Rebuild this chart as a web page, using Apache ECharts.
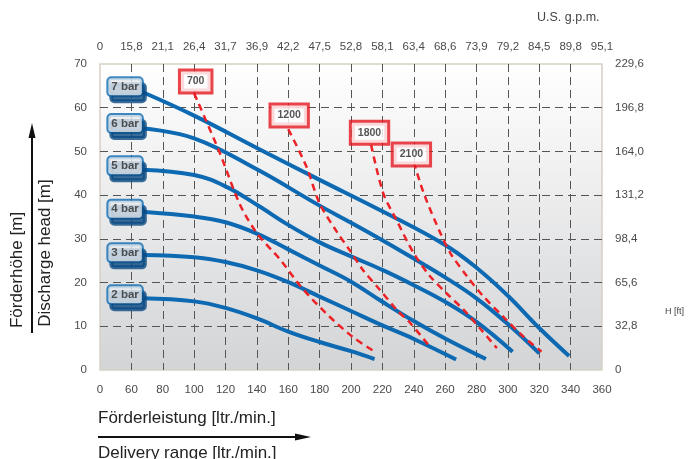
<!DOCTYPE html>
<html>
<head>
<meta charset="utf-8">
<script src="https://cdn.jsdelivr.net/npm/echarts@6/dist/echarts.min.js"></script>
<style>
html,body{margin:0;padding:0;background:#fff;}
#chart{width:693px;height:459px;}
</style>
</head>
<body>
<div id="chart"></div>
<script>
// ---- tick labels ----
const xTickLabels = ['0','60','80','100','120','140','160','180','200','220','240','260','280','300','320','340','360'];
const gpmTickLabels = ['0','15,8','21,1','26,4','31,7','36,9','42,2','47,5','52,8','58,1','63,4','68,6','73,9','79,2','84,5','89,8','95,1'];
const yTickLabels = ['0','10','20','30','40','50','60','70'];
const ftTickLabels = ['0','32,8','65,6','98,4','131,2','164,0','196,8','229,6'];

// ---- pump curves: [flow ltr/min (axis units), head m] ----
const bar7 = [[67,63.6],[100,58.2],[140,50.8],[180,43.5],[220,36.3],[260,28.6],[280,23.4],[300,17],[320,9.6],[339,3.2]];
const bar6 = [[67,55.3],[100,53],[140,45.9],[180,37.6],[200,33.7],[220,29.7],[240,25.5],[260,21.2],[280,16.4],[300,10.5],[320,3.8]];
const bar5 = [[67,45.8],[100,44.6],[120,42],[140,37.8],[160,33.2],[180,29.2],[200,26],[220,22.9],[240,19.4],[260,15.6],[280,11],[303,4.2]];
const bar4 = [[67,36.2],[100,35.1],[120,33.8],[140,31.2],[160,27.6],[180,23.9],[200,20.2],[220,15.6],[240,11.2],[260,7.2],[286,2.5]];
const bar3 = [[67,26.3],[100,25.8],[120,24.7],[140,22.8],[160,20.1],[180,16.8],[200,13.5],[220,10.2],[240,7.1],[267,2.4]];
const bar2 = [[67,16.4],[100,15.7],[120,14.2],[140,11.8],[160,8.8],[180,6.4],[200,4.3],[215,2.5]];

// ---- iso lines (red dashed) ----
const iso700  = [[100,63.3],[116,50],[129,38],[140,31.3],[155,25.2],[168,19.1],[184,13],[201,7.6],[215,4.2]];
const iso1200 = [[160,55.1],[171.5,46.6],[180,38.1],[191,31.6],[199,27.5],[207.6,22.9],[218.5,18.3],[229.3,13.7],[237.6,10.8],[250.3,5.3]];
const iso1800 = [[212.8,51.5],[220.6,40.4],[229,34.3],[240,26.7],[250.5,21.4],[261,17.5],[272,13.7],[283,9.2],[293,5]];
const iso2100 = [[240,47.6],[246.4,40.4],[257,31.3],[263.4,26.7],[274,21.4],[284,17],[297,12.2],[310,7.6],[321.5,4.2]];

// ---- label boxes ----
const isoLabels = [[101,66,'700'],[160.6,58.2,'1200'],[211.8,54.3,'1800'],[238.5,49.3,'2100']];
const barLabels = [[56,64.8,'7 bar'],[56,56.4,'6 bar'],[56,46.7,'5 bar'],[56,36.8,'4 bar'],[56,26.8,'3 bar'],[56,17.2,'2 bar']];

const chart = echarts.init(document.getElementById('chart'));
const FONT = 'Liberation Sans, Arial, sans-serif';
const BLUE = '#0d6ab2';
const RED = '#ec2227';
const gridDash = {show:true, showMinLine:false, showMaxLine:false, lineStyle:{color:'#555555', type:[8,5], width:1}};
const lblStyle = {color:'#4a4a4a', fontSize:11.5, fontFamily:FONT};

function curve(data){
  return {type:'line', data:data, smooth:0.4, symbol:'none', lineStyle:{color:BLUE, width:4}, z:3, silent:true};
}
function iso(data){
  return {type:'line', data:data, smooth:0.3, symbol:'none', lineStyle:{color:RED, width:2.5, type:[7,5]}, z:4, silent:true};
}

chart.setOption({
  animation:false,
  backgroundColor:'#ffffff',
  grid:{left:100, right:91, top:64, bottom:89, show:true, borderColor:'#d6d1c2', borderWidth:1.5,
    backgroundColor:{type:'linear', x:0, y:0, x2:0, y2:1, colorStops:[{offset:0,color:'#ffffff'},{offset:1,color:'#d3d4d6'}]}},
  xAxis:[
    {type:'value', position:'bottom', min:40, max:360, interval:20,
     axisLine:{show:false}, axisTick:{show:false},
     axisLabel:Object.assign({margin:14, formatter:v=>xTickLabels[Math.round((v-40)/20)]}, lblStyle),
     splitLine:gridDash},
    {type:'value', position:'top', min:40, max:360, interval:20,
     axisLine:{show:false}, axisTick:{show:false},
     axisLabel:Object.assign({margin:11, formatter:v=>gpmTickLabels[Math.round((v-40)/20)]}, lblStyle),
     splitLine:{show:false}}
  ],
  yAxis:[
    {type:'value', position:'left', min:0, max:70, interval:10,
     axisLine:{show:false}, axisTick:{show:false},
     axisLabel:Object.assign({margin:13, formatter:v=>yTickLabels[Math.round(v/10)]}, lblStyle),
     splitLine:gridDash},
    {type:'value', position:'right', min:0, max:70, interval:10,
     axisLine:{show:false}, axisTick:{show:false},
     axisLabel:Object.assign({margin:13, formatter:v=>ftTickLabels[Math.round(v/10)]}, lblStyle),
     splitLine:{show:false}}
  ],
  series:[
    curve(bar7), curve(bar6), curve(bar5), curve(bar4), curve(bar3), curve(bar2),
    iso(iso700), iso(iso1200), iso(iso1800), iso(iso2100),
    {type:'scatter', data:isoLabels, symbolSize:0, z:6, silent:true,
     label:{show:true, position:'inside', formatter:p=>p.data[2], color:'#2b2b2b', fontSize:10.5, fontWeight:'bold', fontFamily:FONT,
       backgroundColor:'#ffffff', borderColor:'#e3161e', borderWidth:3, padding:[5,6,4,6]}},
    {type:'scatter', data:barLabels, symbolSize:0, z:6, silent:true,
     label:{show:true, position:'inside', formatter:p=>p.data[2], color:'#2b2b2b', fontSize:11.5, fontWeight:'bold', fontFamily:FONT,
       backgroundColor:'#e8ebee', borderColor:BLUE, borderWidth:2, borderRadius:3, padding:[3,3,2,3],
       shadowColor:'#0a4a82', shadowOffsetX:3, shadowOffsetY:6, shadowBlur:0}}
  ],
  graphic:[
    {type:'text', left:537, top:11, style:{text:'U.S. g.p.m.', fill:'#444', font:'12.5px '+FONT}},
    {type:'text', left:665, top:307, style:{text:'H [ft]', fill:'#444', font:'9px '+FONT}},
    {type:'text', x:17, y:270, rotation:Math.PI/2, style:{text:'Förderhöhe [m]', fill:'#222', font:'17px '+FONT, align:'center', verticalAlign:'middle'}},
    {type:'text', x:45, y:253, rotation:Math.PI/2, style:{text:'Discharge head [m]', fill:'#222', font:'17px '+FONT, align:'center', verticalAlign:'middle'}},
    {type:'line', shape:{x1:32, y1:333, x2:32, y2:136}, style:{stroke:'#111', lineWidth:2}},
    {type:'polygon', shape:{points:[[32,123],[28.5,138],[35.5,138]]}, style:{fill:'#111'}},
    {type:'text', x:98, y:418, style:{text:'Förderleistung [ltr./min.]', fill:'#222', font:'17px '+FONT, verticalAlign:'middle'}},
    {type:'line', shape:{x1:98, y1:437, x2:297, y2:437}, style:{stroke:'#111', lineWidth:2}},
    {type:'polygon', shape:{points:[[311,437],[295,433.5],[295,440.5]]}, style:{fill:'#111'}},
    {type:'text', x:98, y:453, style:{text:'Delivery range [ltr./min.]', fill:'#222', font:'17px '+FONT, verticalAlign:'middle'}}
  ]
});
</script>
</body>
</html>
